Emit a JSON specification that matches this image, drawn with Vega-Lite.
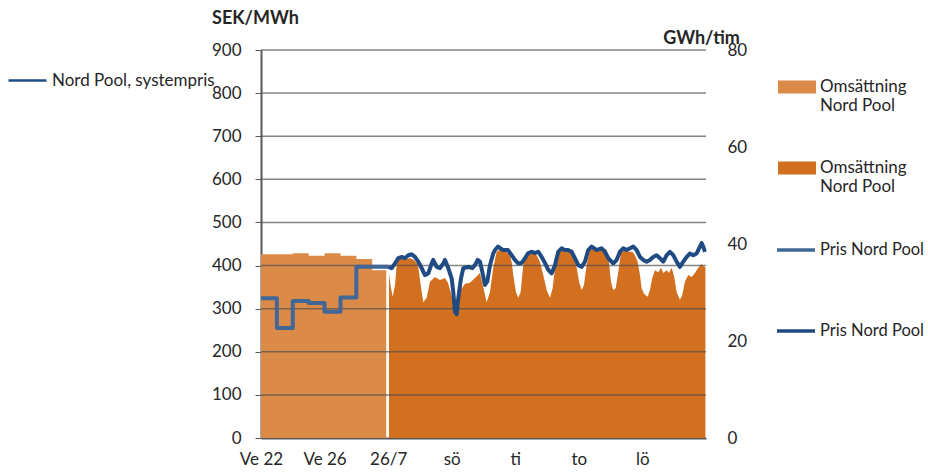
{
  "$schema": "https://vega.github.io/schema/vega-lite/v6.json",
  "width": 445,
  "height": 388,
  "autosize": {"type": "none"},
  "padding": {"left": 261, "top": 50, "right": 222, "bottom": 35},
  "background": "white",
  "config": {
    "view": {"stroke": null},
    "font": "Lato",
    "axis": {"labelFont": "Lato", "titleFont": "Lato", "labelColor": "#262626", "titleColor": "#262626", "labelFontSize": 17},
    "legend": {"labelFont": "Lato", "labelFontSize": 17, "labelColor": "#262626", "padding": 0, "offset": 0, "labelLimit": 0}
  },
  "datasets": {
    "gridLines": [
      {"grid": 100, "x": 1}, {"grid": 100, "x": 15}, {"grid": 200, "x": 1}, {"grid": 200, "x": 15},
      {"grid": 300, "x": 1}, {"grid": 300, "x": 15}, {"grid": 400, "x": 1}, {"grid": 400, "x": 15},
      {"grid": 500, "x": 1}, {"grid": 500, "x": 15}, {"grid": 600, "x": 1}, {"grid": 600, "x": 15},
      {"grid": 700, "x": 1}, {"grid": 700, "x": 15}, {"grid": 800, "x": 1}, {"grid": 800, "x": 15},
      {"grid": 900, "x": 1}, {"grid": 900, "x": 15}
    ],
    "areaWeek": [
      {"x": 1, "gwh": 37.9}, {"x": 1.5, "gwh": 37.9}, {"x": 2, "gwh": 38.1}, {"x": 2.5, "gwh": 37.6},
      {"x": 3, "gwh": 38.1}, {"x": 3.5, "gwh": 37.6}, {"x": 4, "gwh": 36.9}, {"x": 4.5, "gwh": 34.6},
      {"x": 4.94, "gwh": 34.6}
    ],
    "priceWeek": [
      {"x": 1, "sek": 324}, {"x": 1.5, "sek": 255}, {"x": 2, "sek": 318}, {"x": 2.5, "sek": 313},
      {"x": 3, "sek": 293}, {"x": 3.5, "sek": 326}, {"x": 4, "sek": 397}, {"x": 4.5, "sek": 397},
      {"x": 5.0, "sek": 397}
    ],
    "areaHour": [
      {"x": 5.026, "gwh": 34.2}, {"x": 5.074, "gwh": 31.5}, {"x": 5.143, "gwh": 29.1}, {"x": 5.215, "gwh": 31.5},
      {"x": 5.269, "gwh": 35.7}, {"x": 5.372, "gwh": 37.3}, {"x": 5.53, "gwh": 36.7}, {"x": 5.687, "gwh": 37.1},
      {"x": 5.813, "gwh": 36.7}, {"x": 5.939, "gwh": 35.7}, {"x": 6.002, "gwh": 32.6}, {"x": 6.105, "gwh": 28.0},
      {"x": 6.212, "gwh": 28.9}, {"x": 6.316, "gwh": 32.2}, {"x": 6.473, "gwh": 33.2}, {"x": 6.631, "gwh": 32.6},
      {"x": 6.788, "gwh": 33.0}, {"x": 6.882, "gwh": 32.0}, {"x": 6.977, "gwh": 29.9}, {"x": 7.103, "gwh": 26.4},
      {"x": 7.197, "gwh": 28.9}, {"x": 7.26, "gwh": 30.3}, {"x": 7.417, "gwh": 31.8}, {"x": 7.574, "gwh": 32.0},
      {"x": 7.732, "gwh": 33.0}, {"x": 7.889, "gwh": 34.0}, {"x": 7.993, "gwh": 31.1}, {"x": 8.1, "gwh": 28.0},
      {"x": 8.204, "gwh": 30.1}, {"x": 8.307, "gwh": 35.1}, {"x": 8.414, "gwh": 38.4}, {"x": 8.518, "gwh": 38.8},
      {"x": 8.675, "gwh": 38.6}, {"x": 8.833, "gwh": 37.7}, {"x": 8.886, "gwh": 36.3}, {"x": 8.936, "gwh": 33.6},
      {"x": 9.021, "gwh": 30.1}, {"x": 9.094, "gwh": 28.9}, {"x": 9.169, "gwh": 30.1}, {"x": 9.251, "gwh": 35.7},
      {"x": 9.358, "gwh": 37.7}, {"x": 9.515, "gwh": 38.1}, {"x": 9.673, "gwh": 37.7}, {"x": 9.776, "gwh": 36.3},
      {"x": 9.88, "gwh": 33.6}, {"x": 9.987, "gwh": 30.5}, {"x": 10.091, "gwh": 28.9}, {"x": 10.176, "gwh": 30.9},
      {"x": 10.248, "gwh": 35.1}, {"x": 10.352, "gwh": 38.1}, {"x": 10.509, "gwh": 38.8}, {"x": 10.72, "gwh": 38.4},
      {"x": 10.824, "gwh": 37.3}, {"x": 10.931, "gwh": 35.1}, {"x": 11.013, "gwh": 32.0}, {"x": 11.088, "gwh": 30.5},
      {"x": 11.16, "gwh": 31.5}, {"x": 11.245, "gwh": 35.7}, {"x": 11.349, "gwh": 38.8}, {"x": 11.56, "gwh": 39.2},
      {"x": 11.717, "gwh": 39.2}, {"x": 11.875, "gwh": 38.8}, {"x": 11.947, "gwh": 36.3}, {"x": 12.01, "gwh": 32.2},
      {"x": 12.082, "gwh": 30.5}, {"x": 12.158, "gwh": 30.9}, {"x": 12.239, "gwh": 34.2}, {"x": 12.324, "gwh": 38.1},
      {"x": 12.45, "gwh": 38.8}, {"x": 12.554, "gwh": 38.4}, {"x": 12.68, "gwh": 38.4}, {"x": 12.765, "gwh": 37.7},
      {"x": 12.85, "gwh": 36.3}, {"x": 12.922, "gwh": 33.6}, {"x": 12.975, "gwh": 30.9}, {"x": 13.057, "gwh": 29.7},
      {"x": 13.164, "gwh": 29.1}, {"x": 13.237, "gwh": 30.5}, {"x": 13.309, "gwh": 33.0}, {"x": 13.394, "gwh": 34.6},
      {"x": 13.498, "gwh": 34.2}, {"x": 13.583, "gwh": 35.1}, {"x": 13.655, "gwh": 34.0}, {"x": 13.762, "gwh": 34.6},
      {"x": 13.834, "gwh": 34.0}, {"x": 13.919, "gwh": 35.1}, {"x": 14.001, "gwh": 33.2}, {"x": 14.076, "gwh": 30.1},
      {"x": 14.18, "gwh": 28.5}, {"x": 14.253, "gwh": 29.5}, {"x": 14.336, "gwh": 32.2}, {"x": 14.441, "gwh": 33.6},
      {"x": 14.548, "gwh": 33.2}, {"x": 14.652, "gwh": 34.0}, {"x": 14.755, "gwh": 35.1}, {"x": 14.863, "gwh": 35.9},
      {"x": 14.935, "gwh": 35.3}, {"x": 14.982, "gwh": 35.3}
    ],
    "priceHour": [
      {"x": 5.004, "sek": 397}, {"x": 5.111, "sek": 394}, {"x": 5.215, "sek": 405}, {"x": 5.319, "sek": 417},
      {"x": 5.426, "sek": 420}, {"x": 5.53, "sek": 417}, {"x": 5.634, "sek": 424}, {"x": 5.74, "sek": 426},
      {"x": 5.844, "sek": 420}, {"x": 5.948, "sek": 409}, {"x": 6.055, "sek": 394}, {"x": 6.159, "sek": 378},
      {"x": 6.263, "sek": 382}, {"x": 6.37, "sek": 405}, {"x": 6.42, "sek": 413}, {"x": 6.527, "sek": 397},
      {"x": 6.631, "sek": 394}, {"x": 6.735, "sek": 405}, {"x": 6.788, "sek": 413}, {"x": 6.892, "sek": 394},
      {"x": 6.999, "sek": 370}, {"x": 7.049, "sek": 339}, {"x": 7.103, "sek": 293}, {"x": 7.156, "sek": 287},
      {"x": 7.206, "sek": 324}, {"x": 7.291, "sek": 370}, {"x": 7.364, "sek": 394}, {"x": 7.521, "sek": 397},
      {"x": 7.647, "sek": 394}, {"x": 7.732, "sek": 401}, {"x": 7.817, "sek": 413}, {"x": 7.889, "sek": 409},
      {"x": 7.961, "sek": 386}, {"x": 8.046, "sek": 355}, {"x": 8.119, "sek": 363}, {"x": 8.204, "sek": 401},
      {"x": 8.307, "sek": 428}, {"x": 8.361, "sek": 436}, {"x": 8.455, "sek": 444}, {"x": 8.612, "sek": 436},
      {"x": 8.77, "sek": 436}, {"x": 8.886, "sek": 424}, {"x": 8.99, "sek": 413}, {"x": 9.094, "sek": 405},
      {"x": 9.201, "sek": 406}, {"x": 9.304, "sek": 417}, {"x": 9.408, "sek": 429}, {"x": 9.515, "sek": 432},
      {"x": 9.619, "sek": 429}, {"x": 9.723, "sek": 432}, {"x": 9.83, "sek": 420}, {"x": 9.934, "sek": 406},
      {"x": 10.037, "sek": 390}, {"x": 10.144, "sek": 382}, {"x": 10.248, "sek": 401}, {"x": 10.352, "sek": 432},
      {"x": 10.459, "sek": 440}, {"x": 10.563, "sek": 436}, {"x": 10.667, "sek": 436}, {"x": 10.773, "sek": 432},
      {"x": 10.877, "sek": 417}, {"x": 10.981, "sek": 401}, {"x": 11.088, "sek": 397}, {"x": 11.192, "sek": 409},
      {"x": 11.296, "sek": 436}, {"x": 11.403, "sek": 444}, {"x": 11.56, "sek": 436}, {"x": 11.717, "sek": 440},
      {"x": 11.821, "sek": 432}, {"x": 11.925, "sek": 417}, {"x": 12.082, "sek": 405}, {"x": 12.189, "sek": 413},
      {"x": 12.293, "sek": 432}, {"x": 12.397, "sek": 440}, {"x": 12.504, "sek": 436}, {"x": 12.607, "sek": 440},
      {"x": 12.711, "sek": 444}, {"x": 12.818, "sek": 436}, {"x": 12.922, "sek": 420}, {"x": 13.026, "sek": 413},
      {"x": 13.133, "sek": 409}, {"x": 13.237, "sek": 413}, {"x": 13.34, "sek": 420}, {"x": 13.447, "sek": 424},
      {"x": 13.551, "sek": 417}, {"x": 13.655, "sek": 409}, {"x": 13.762, "sek": 424}, {"x": 13.866, "sek": 432},
      {"x": 13.97, "sek": 424}, {"x": 14.076, "sek": 409}, {"x": 14.18, "sek": 397}, {"x": 14.284, "sek": 409},
      {"x": 14.391, "sek": 420}, {"x": 14.495, "sek": 428}, {"x": 14.599, "sek": 424}, {"x": 14.706, "sek": 428},
      {"x": 14.809, "sek": 444}, {"x": 14.863, "sek": 452}, {"x": 14.913, "sek": 444}, {"x": 14.966, "sek": 432}
    ]
  },
  "layer": [
    {
      "encoding": {
        "y": {
          "field": "gwh", "type": "quantitative",
          "scale": {"domain": [0, 80], "nice": false},
          "axis": {
            "orient": "right", "values": [0, 20, 40, 60, 80],
            "title": "GWh/tim", "titleAngle": 0, "titleAlign": "center", "titleBaseline": "middle",
            "titleX": -5, "titleY": -12, "titleFontSize": 18, "titleFontWeight": "bold",
            "grid": false, "domain": false, "ticks": false, "labelPadding": 21, "labelAlign": "left"
          }
        },
        "fill": {
          "type": "nominal",
          "scale": {"domain": ["Omsättning vecka", "Omsättning timme"], "range": ["#dc8a48", "#d3701f"]},
          "legend": {
            "orient": "none", "legendX": 517, "legendY": 18, "title": null,
            "symbolType": "M-1,-0.34H1V0.34H-1Z", "symbolSize": 1444, "symbolStrokeWidth": 0, "symbolOpacity": 1,
            "labelExpr": "['Omsättning','Nord Pool']", "rowPadding": 35, "labelOffset": 4, "direction": "vertical"
          }
        }
      },
      "layer": [
        {
          "data": {"name": "areaWeek"},
          "mark": {"type": "area", "interpolate": "step-after"},
          "encoding": {
            "x": {
              "field": "x", "type": "quantitative",
              "scale": {"domain": [1, 15], "nice": false, "zero": false},
              "axis": {
                "values": [1, 3, 5, 7, 9, 11, 13],
                "labelExpr": "['Ve 22','Ve 26','26/7','sö','ti','to','lö'][(datum.value-1)/2]",
                "title": null, "grid": false, "ticks": false,
                "domainColor": "#595959", "domainWidth": 2,
                "labelPadding": 13, "labelFlush": false, "labelOverlap": false
              }
            },
            "fill": {"datum": "Omsättning vecka", "type": "nominal"}
          }
        },
        {
          "data": {"name": "areaHour"},
          "mark": {"type": "area", "interpolate": "linear"},
          "encoding": {
            "x": {"field": "x", "type": "quantitative"},
            "fill": {"datum": "Omsättning timme", "type": "nominal"}
          }
        }
      ]
    },
    {
      "layer": [
        {
          "data": {"name": "gridLines"},
          "mark": {"type": "line", "stroke": "#505050", "strokeWidth": 1.5, "strokeOpacity": 0.7},
          "encoding": {
            "x": {"field": "x", "type": "quantitative"},
            "detail": {"field": "grid", "type": "nominal"},
            "y": {
              "field": "grid", "type": "quantitative",
              "scale": {"domain": [0, 900], "nice": false},
              "axis": {
                "orient": "left", "values": [0, 100, 200, 300, 400, 500, 600, 700, 800, 900],
                "title": "SEK/MWh", "titleAngle": 0, "titleAlign": "center", "titleBaseline": "middle",
                "titleX": -6, "titleY": -32, "titleFontSize": 18, "titleFontWeight": "bold",
                "grid": false,
                "domainColor": "#595959", "domainWidth": 2, "tickColor": "#595959", "tickSize": 6,
                "labelPadding": 14
              }
            }
          }
        },
        {
          "data": {"name": "priceWeek"},
          "mark": {"type": "line", "interpolate": "step-after", "strokeWidth": 4, "strokeJoin": "round"},
          "encoding": {
            "x": {"field": "x", "type": "quantitative"},
            "y": {"field": "sek", "type": "quantitative"},
            "stroke": {
              "datum": "Pris vecka", "type": "nominal",
              "scale": {"domain": ["Pris vecka", "Pris timme"], "range": ["#416797", "#1f4a82"]},
              "legend": {
                "orient": "none", "legendX": 514, "legendY": 179, "title": null,
                "symbolType": "stroke", "symbolSize": 1444, "symbolStrokeWidth": 3.5,
                "labelExpr": "'Pris Nord Pool'", "labelFontSize": 16.5, "rowPadding": 51, "labelOffset": 3, "direction": "vertical"
              }
            }
          }
        },
        {
          "data": {"name": "priceHour"},
          "mark": {"type": "line", "interpolate": "linear", "strokeWidth": 4, "strokeJoin": "round"},
          "encoding": {
            "x": {"field": "x", "type": "quantitative"},
            "y": {"field": "sek", "type": "quantitative"},
            "stroke": {"datum": "Pris timme", "type": "nominal"},
            "strokeDash": {
              "datum": "Nord Pool, systempris", "type": "nominal",
              "scale": {"domain": ["Nord Pool, systempris"], "range": [[1, 0]]},
              "legend": {
                "orient": "none", "legendX": -254, "legendY": 10, "title": null,
                "symbolType": "stroke", "symbolSize": 1444, "symbolStrokeWidth": 2.5,
                "symbolStrokeColor": "#1f4e85", "labelOffset": 4
              }
            }
          }
        }
      ]
    }
  ],
  "resolve": {"scale": {"y": "independent"}}
}
